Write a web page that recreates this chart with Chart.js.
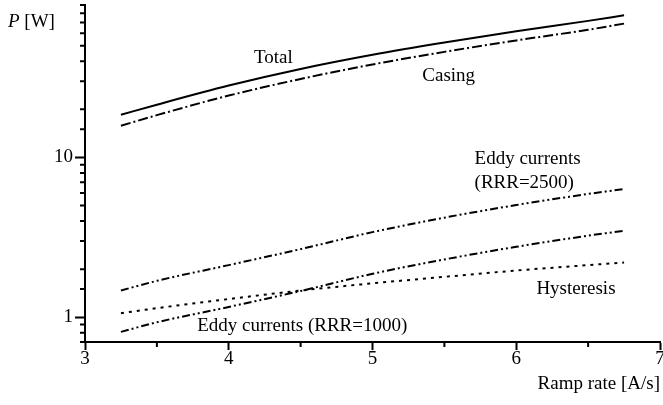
<!DOCTYPE html>
<html>
<head>
<meta charset="utf-8">
<script src="https://cdn.jsdelivr.net/npm/chart.js@4/dist/chart.umd.min.js"></script>
<style>
    html, body { margin: 0; padding: 0; background: #fff; }
    #wrap { width: 663px; height: 405px; }
</style>
</head>
<body>
<div id="wrap"><canvas id="powerChart" width="663" height="405"></canvas></div>
<script>
// Ramp rate [A/s] and losses [W]
const rampRate = [3.25, 3.5, 4, 4.5, 5, 5.5, 6, 6.5, 6.75];
const totalP = [18.5, 21.4, 28.2, 35.8, 43.9, 52.4, 61.6, 71.6, 77.6];
const casingP = [15.8, 18.4, 24.4, 31.0, 38.2, 45.8, 54.0, 63.0, 68.8];
const eddy2500P = [1.47, 1.69, 2.12, 2.67, 3.41, 4.20, 5.04, 5.91, 6.35];
const eddy1000P = [0.81, 0.93, 1.16, 1.46, 1.87, 2.30, 2.76, 3.24, 3.48];
const hysteresisP = [1.06, 1.14, 1.30, 1.47, 1.63, 1.79, 1.96, 2.12, 2.20];

const xTickLabels = [3, 4, 5, 6, 7];
const yTickLabels = [1, 10];

// curve names written inside the plot (anchored in data units)
const curveLabels = [
    { text: "Total", x: 4.31, y: 39.1, align: "center" },
    { text: "Casing", x: 5.53, y: 30.1, align: "center" },
    { text: "Eddy currents", x: 5.71, y: 9.09, align: "left" },
    { text: "(RRR=2500)", x: 5.71, y: 6.47, align: "left" },
    { text: "Hysteresis", x: 6.14, y: 1.406, align: "left" },
    { text: "Eddy currents (RRR=1000)", x: 3.78, y: 0.826, align: "left" },
];

const FONT = "'Liberation Serif', 'Times New Roman', serif";
const FS = 19;

function series(values) {
    return rampRate.map((x, i) => ({ x: x, y: values[i] }));
}

function line(label, values, dash) {
    return {
        label: label,
        data: series(values),
        borderColor: "#000",
        borderWidth: 2,
        borderDash: dash,
        pointRadius: 0,
        fill: false,
        cubicInterpolationMode: "monotone",
    };
}

const isMajorX = v => xTickLabels.some(t => Math.abs(t - v) < 1e-6);
const isMajorY = v => yTickLabels.some(t => Math.abs(t - v) < 1e-6);

// short minor ticks + text labels
const extrasPlugin = {
    id: "extras",
    afterDraw(chart) {
        const ctx = chart.ctx;
        const xs = chart.scales.x;
        const ys = chart.scales.y;
        const area = chart.chartArea;
        ctx.save();
        ctx.strokeStyle = "#000";
        ctx.lineWidth = 2;
        ctx.beginPath();
        xs.ticks.forEach(t => {
            if (isMajorX(t.value)) return;
            const px = xs.getPixelForValue(t.value);
            ctx.moveTo(px, area.bottom);
            ctx.lineTo(px, area.bottom + 5);
        });
        ys.ticks.forEach(t => {
            if (isMajorY(t.value)) return;
            const py = ys.getPixelForValue(t.value);
            ctx.moveTo(area.left, py);
            ctx.lineTo(area.left - 5, py);
        });
        ctx.stroke();

        ctx.fillStyle = "#000";
        ctx.textBaseline = "alphabetic";
        ctx.font = FS + "px " + FONT;
        curveLabels.forEach(l => {
            ctx.textAlign = l.align;
            ctx.fillText(l.text, xs.getPixelForValue(l.x), ys.getPixelForValue(l.y));
        });

        // y axis title "P [W]" with italic P
        const tx = area.left - 77;
        const ty = area.top + 22;
        ctx.textAlign = "left";
        ctx.font = "italic " + FS + "px " + FONT;
        ctx.fillText("P", tx, ty);
        const w = ctx.measureText("P").width;
        ctx.font = FS + "px " + FONT;
        ctx.fillText(" [W]", tx + w, ty);
        ctx.restore();
    }
};

new Chart(document.getElementById("powerChart"), {
    type: "line",
    data: {
        datasets: [
            line("Total", totalP, []),
            line("Casing", casingP, [10, 3, 2, 3]),
            line("Eddy currents (RRR=2500)", eddy2500P, [8, 3, 2, 3, 2, 3]),
            line("Eddy currents (RRR=1000)", eddy1000P, [8, 3, 2, 3, 2, 3]),
            line("Hysteresis", hysteresisP, [3, 5]),
        ],
    },
    options: {
        responsive: false,
        animation: false,
        devicePixelRatio: 1,
        layout: { padding: { top: 5, right: 3, left: 0, bottom: 0 } },
        plugins: {
            legend: { display: false },
            tooltip: { enabled: false },
        },
        scales: {
            x: {
                type: "linear",
                min: 3,
                max: 7,
                afterFit: s => { s.height = 63; s.paddingLeft = 0; s.paddingRight = 0; },
                border: { display: true, color: "#000", width: 2 },
                grid: {
                    drawOnChartArea: false,
                    drawTicks: true,
                    tickLength: 8,
                    tickWidth: 2,
                    tickColor: c => isMajorX(c.tick.value) ? "#000" : "rgba(0,0,0,0)",
                },
                ticks: {
                    stepSize: 0.5,
                    autoSkip: false,
                    maxRotation: 0,
                    padding: -2,
                    color: "#000",
                    font: { family: FONT, size: FS },
                    callback: v => isMajorX(v) ? String(Math.round(v)) : "",
                },
                title: {
                    display: true,
                    text: "Ramp rate [A/s]",
                    align: "end",
                    color: "#000",
                    font: { family: FONT, size: FS },
                    padding: { top: 0, bottom: 10 },
                },
            },
            y: {
                type: "logarithmic",
                min: 0.7,
                max: 90,
                afterFit: s => { s.width = 85; s.paddingTop = 0; s.paddingBottom = 0; },
                border: { display: true, color: "#000", width: 2 },
                grid: {
                    drawOnChartArea: false,
                    drawTicks: true,
                    tickLength: 10,
                    tickWidth: 2,
                    tickColor: c => isMajorY(c.tick.value) ? "#000" : "rgba(0,0,0,0)",
                },
                ticks: {
                    autoSkip: false,
                    padding: 2,
                    color: "#000",
                    font: { family: FONT, size: FS },
                    callback: v => isMajorY(v) ? String(Math.round(v)) : "",
                },
            },
        },
    },
    plugins: [extrasPlugin],
});
</script>
</body>
</html>
